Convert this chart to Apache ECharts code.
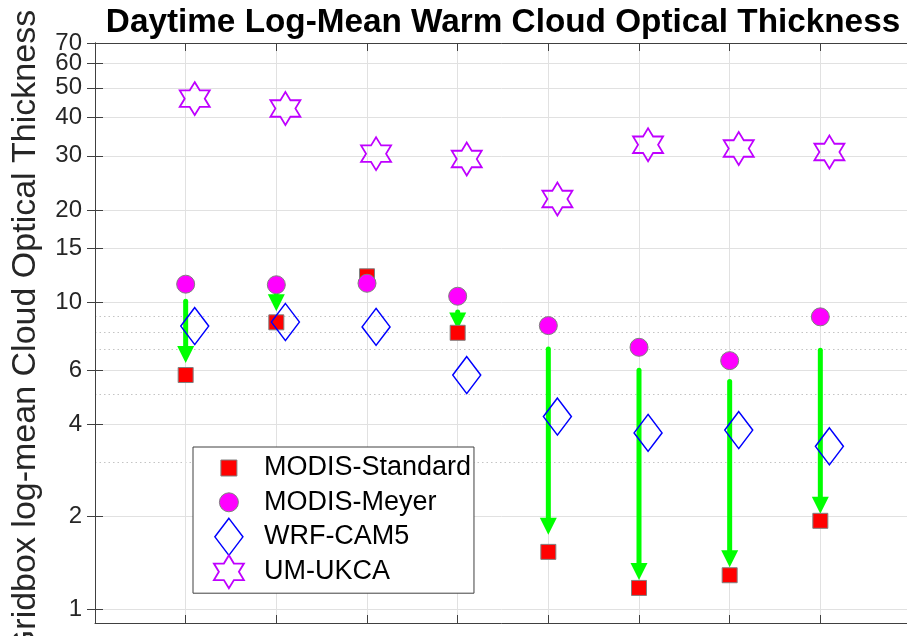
<!DOCTYPE html>
<html><head><meta charset="utf-8">
<script src="https://cdn.jsdelivr.net/npm/echarts@6/dist/echarts.min.js"></script>
<style>html,body{margin:0;padding:0;background:#fff}#c{width:907px;height:636px}</style>
</head><body><div id="c"></div>
<script>
// ---- data ----
const xPositions = [1, 2, 3, 4, 5, 6, 7, 8];
const modisStandard = [5.79, 8.60, 12.15, 7.95, 1.535, 1.171, 1.288, 1.938];
const modisMeyer = [11.45, 11.40, 11.53, 10.46, 8.39, 7.13, 6.45, 8.96];
const wrfCam5 = [8.36, 8.62, 8.31, 5.79, 4.24, 3.75, 3.83, 3.39];
const umUkca = [46.1, 42.8, 30.5, 29.3, 21.7, 32.6, 31.7, 30.9];
const arrowStart = [10.26, 10.68, null, 9.47, 7.17, 6.11, 5.62, 7.10];
const arrowEnd = [6.34, 9.35, null, 8.15, 1.745, 1.243, 1.368, 2.043];
const yTickValues = [1, 2, 4, 6, 10, 15, 20, 30, 40, 50, 60, 70];
const yMinorValues = [3, 5, 7, 8, 9];
const seriesNames = ['MODIS-Standard', 'MODIS-Meyer', 'WRF-CAM5', 'UM-UKCA'];
const titleText = 'Daytime Log-Mean Warm Cloud Optical Thickness';
const yName = 'Gridbox log-mean Cloud Optical Thickness';

// ---- styling ----
const modelOffset = 0.1;
const FONT = "'Liberation Sans', Arial, Helvetica, sans-serif";
const AX = '#404040';
const GRID = '#e1e1e1';
const STAR = 'path://M0 -100 L28.87 -50 L86.6 -50 L57.74 0 L86.6 50 L28.87 50 L0 100 L-28.87 50 L-86.6 50 L-57.74 0 L-86.6 -50 L-28.87 -50 Z';
const LEG_SQUARE = 'path://M0 0 M60 38 M22 11 L38 11 L38 27 L22 27 Z';
const LEG_CIRCLE = 'path://M0 0 M60 38 M20.5 19 A9.5 9.5 0 1 0 39.5 19 A9.5 9.5 0 1 0 20.5 19 Z';
const LEG_DIAMOND = 'path://M0 0 M60 38 M30 0.5 L44 19 L30 37.5 L16 19 Z';
const LEG_STAR = 'path://M0 0 M60 38 M30 2.5 L35 10.75 L45 10.75 L40 19 L45 27.25 L35 27.25 L30 35.5 L25 27.25 L15 27.25 L20 19 L15 10.75 L25 10.75 Z';

const fmt = v => String(+(+v).toPrecision(6));
const labelStyle = {formatter: fmt, fontSize: 24, color: '#262626', fontFamily: FONT, margin: 13};

const chart = echarts.init(document.getElementById('c'), null, {renderer: 'canvas'});

function xAxisDef(pos, showSplit) {
  return {
    type: 'value', min: 0, max: 9, interval: 1, position: pos,
    axisLine: {show: true, lineStyle: {color: AX, width: 1}},
    axisTick: {show: true, inside: true, length: 8, lineStyle: {color: AX, width: 1}},
    axisLabel: {show: false},
    splitLine: {show: showSplit, lineStyle: {color: GRID, width: 1}}
  };
}
function yAxisDef(pos, isMain) {
  return {
    type: 'log', logBase: 10, min: 0.9, max: 70, position: pos,
    axisLine: {show: true, lineStyle: {color: AX, width: 1}},
    axisTick: {show: true, inside: true, length: 8, customValues: yTickValues, lineStyle: {color: AX, width: 1}},
    axisLabel: isMain ? Object.assign({show: true, customValues: yTickValues, interval: 0, showMaxLabel: false, showMinLabel: true, hideOverlap: false}, labelStyle) : {show: false},
    splitLine: {show: isMain, lineStyle: {color: GRID, width: 1}},
    minorTick: {show: false}, minorSplitLine: {show: false},
    name: isMain ? yName : '',
    nameLocation: 'middle', nameRotate: 90, nameGap: 52,
    nameTextStyle: {fontSize: 34, color: '#262626', fontFamily: FONT}
  };
}

const yMinor = {
  type: 'log', logBase: 10, min: 0.9, max: 70, position: 'left',
  axisLine: {show: false},
  axisTick: {show: false, customValues: yMinorValues},
  axisLabel: {show: false, customValues: yMinorValues},
  splitLine: {show: true, lineStyle: {color: '#c4c4c4', width: 1, type: [1.5, 3]}},
  z: 0
};
// carries the top tick label, which the main axis drops as overlapping
const yTopLabel = {
  type: 'log', logBase: 10, min: 0.9, max: 70, position: 'left',
  axisLine: {show: false},
  axisTick: {show: false, customValues: yTickValues.slice(-1)},
  axisLabel: Object.assign({show: true, customValues: yTickValues.slice(-1), showMaxLabel: true}, labelStyle),
  splitLine: {show: false}
};

const pts = (arr, off) => xPositions.map((x, i) => [x + off, arr[i]]);
const arrowData = [];
xPositions.forEach((x, i) => {
  if (arrowStart[i] != null && arrowEnd[i] != null) arrowData.push([x, arrowStart[i], arrowEnd[i]]);
});

const common = {type: 'scatter', xAxisIndex: 0, yAxisIndex: 0, silent: true, emphasis: {disabled: true}};

chart.setOption({
  animation: false,
  backgroundColor: '#fff',
  title: {
    text: titleText, left: 498, top: 1, textAlign: 'center',
    textStyle: {fontSize: 33.3, fontWeight: 'bold', color: '#000', fontFamily: FONT}
  },
  grid: {left: 95, right: -4, top: 43, bottom: 13, containLabel: false, outerBoundsMode: 'none'},
  xAxis: [xAxisDef('bottom', true), xAxisDef('top', false)],
  yAxis: [yAxisDef('left', true), yAxisDef('right', false), yMinor, yTopLabel],
  legend: {
    orient: 'vertical', left: 193, top: 447,
    itemWidth: 60, itemHeight: 38, itemGap: -4.7,
    padding: [1.5, 3, 1.5, 5],
    borderColor: '#404040', borderWidth: 1, backgroundColor: '#fff',
    selectedMode: false,
    textStyle: {fontSize: 27, color: '#000', fontFamily: FONT},
    data: [
      {name: seriesNames[0], icon: LEG_SQUARE, itemStyle: {color: '#ff0000', borderColor: '#808080', borderWidth: 1}},
      {name: seriesNames[1], icon: LEG_CIRCLE, itemStyle: {color: '#ff00ff', borderColor: '#808080', borderWidth: 1}},
      {name: seriesNames[2], icon: LEG_DIAMOND, itemStyle: {color: 'rgba(0,0,0,0)', borderColor: '#0000ff', borderWidth: 1.5}},
      {name: seriesNames[3], icon: LEG_STAR, itemStyle: {color: 'rgba(0,0,0,0)', borderColor: '#bf00ff', borderWidth: 1.8}}
    ]
  },
  series: [
    Object.assign({}, common, {
      name: seriesNames[0], data: pts(modisStandard, 0), symbol: 'rect', symbolSize: 15,
      itemStyle: {color: '#ff0000', borderColor: '#808080', borderWidth: 1, opacity: 1}
    }),
    Object.assign({}, common, {
      name: seriesNames[1], data: pts(modisMeyer, 0), symbol: 'circle', symbolSize: 18,
      itemStyle: {color: '#ff00ff', borderColor: '#808080', borderWidth: 1, opacity: 1}
    }),
    Object.assign({}, common, {
      name: seriesNames[2], data: pts(wrfCam5, modelOffset), symbol: 'diamond', symbolSize: [28, 37],
      itemStyle: {color: 'rgba(0,0,0,0)', borderColor: '#0000ff', borderWidth: 1.5, opacity: 1}
    }),
    Object.assign({}, common, {
      name: seriesNames[3], data: pts(umUkca, modelOffset), symbol: STAR, symbolSize: [30, 33], symbolKeepAspect: false,
      itemStyle: {color: 'rgba(0,0,0,0)', borderColor: '#bf00ff', borderWidth: 1.8, opacity: 1}
    }),
    {
      type: 'custom', name: 'change', xAxisIndex: 0, yAxisIndex: 0, silent: true,
      data: arrowData,
      encode: {x: 0, y: [1, 2]},
      renderItem: function (params, api) {
        const x = api.value(0);
        const p0 = api.coord([x, api.value(1)]);
        const p1 = api.coord([x, api.value(2)]);
        const headLen = 17, headW = 17, shaftW = 5;
        const baseY = p1[1] - headLen;
        const children = [];
        if (baseY > p0[1]) {
          children.push({type: 'rect', shape: {x: p0[0] - shaftW / 2, y: p0[1], width: shaftW, height: baseY - p0[1] + 1, r: [2.5, 2.5, 0, 0]}, style: {fill: '#00ff00'}});
        }
        children.push({type: 'polygon', shape: {points: [[p1[0] - headW / 2, baseY], [p1[0] + headW / 2, baseY], [p1[0], p1[1]]]}, style: {fill: '#00ff00'}});
        return {type: 'group', children: children};
      }
    }
  ]
});
</script></body></html>
